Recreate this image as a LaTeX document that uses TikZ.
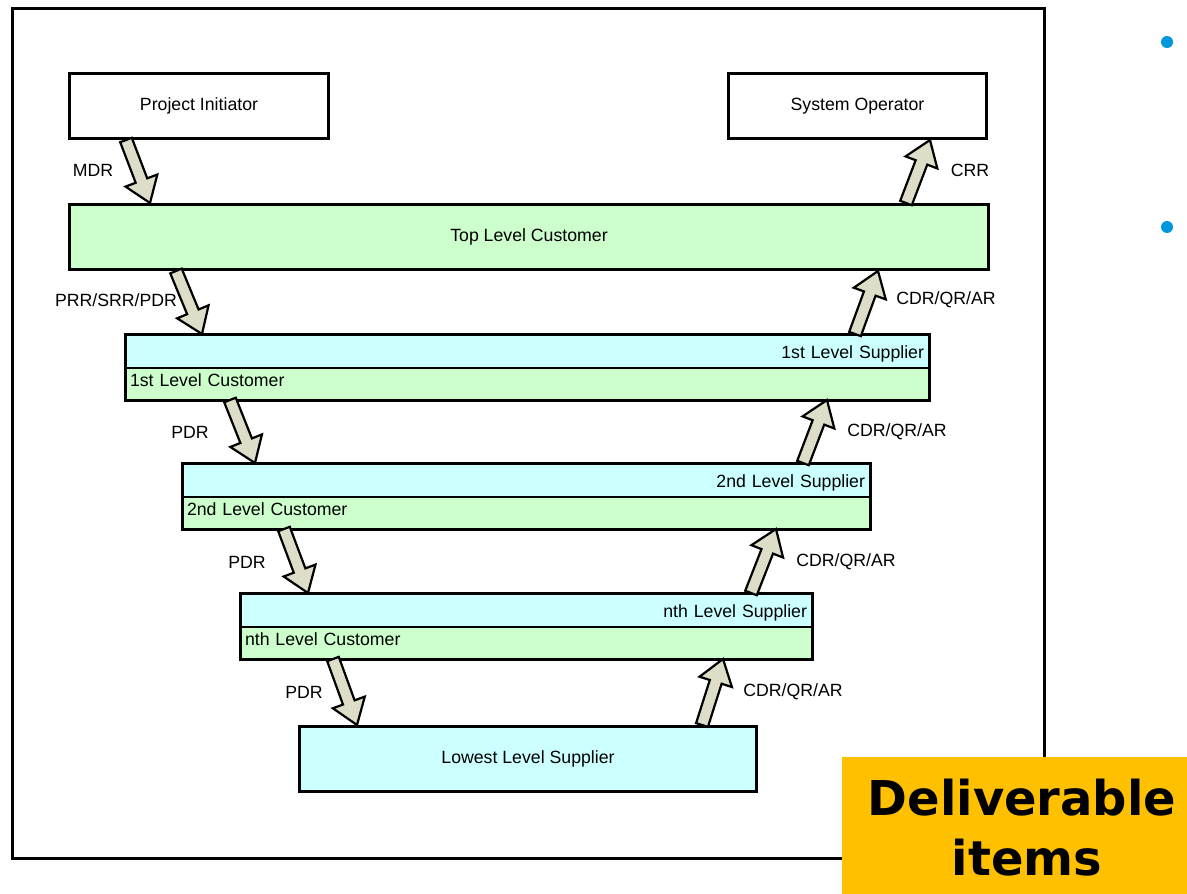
\documentclass[tikz,border=0pt]{standalone}
\usepackage{fontspec}
\setmainfont{Liberation Sans}
\newfontfamily\delfont{DejaVu Sans}
\usetikzlibrary{calc}
\definecolor{lgreen}{RGB}{204,255,204}
\definecolor{lcyan}{RGB}{204,255,255}
\definecolor{arrowfill}{RGB}{221,221,200}
\definecolor{dorange}{RGB}{255,192,0}
\definecolor{bulletblue}{RGB}{0,150,219}
\tikzset{
  txt/.style={font=\fontsize{17.7}{20}\selectfont},
  box/.style={draw, line width=3pt, inner sep=0pt, txt},
  part/.style={draw, line width=1.2pt, inner xsep=5pt, inner ysep=0pt, outer sep=0pt, txt},
  suppart/.style={part, fill=lcyan, align=right, text height=14pt, text depth=0pt},
  cuspart/.style={part, fill=lgreen, align=left, text height=10pt, text depth=6pt},
  outline/.style={draw, line width=3pt},
  barrow/.style={draw, line width=2.2pt, fill=arrowfill, line join=miter},
  lbl/.style={txt, inner sep=0pt},
  delfnt/.style={font=\delfont\bfseries\fontsize{48}{50}\selectfont, inner sep=0pt, anchor=base},
}
\newcommand\blkarrow[2]{%
  \coordinate (hb) at ($(#2)!24pt!(#1)$);
  \draw[barrow] ($(#1)!6.2pt!90:(#2)$) -- ($(hb)!6.2pt!-90:(#1)$) -- ($(hb)!17pt!-90:(#1)$)
     -- (#2) -- ($(hb)!17pt!90:(#1)$) -- ($(hb)!6.2pt!90:(#1)$) -- ($(#1)!6.2pt!-90:(#2)$) -- cycle;
}
\begin{document}
\begin{tikzpicture}[x=1pt,y=-1pt]
\useasboundingbox (0,0) rectangle (1187,894);
% frame
\draw[line width=3pt] (12,8) rectangle (1044,858);
% top boxes
\node[box, minimum width=259pt, minimum height=65pt, anchor=north west] (pi) at (68,72) {Project Initiator};
\node[box, minimum width=258pt, minimum height=65pt, anchor=north west] (so) at (727,72) {System Operator};
\node[box, fill=lgreen, minimum width=919pt, minimum height=65pt, anchor=north west] (tlc) at (68,203) {Top Level Customer};
% 1st level
\node[suppart, minimum width=804pt, minimum height=34pt, text width=794pt, anchor=north west] (s1) at (125,334) {1st Level Supplier};
\node[cuspart, minimum width=804pt, minimum height=32pt, text width=794pt, anchor=north west] (c1) at (s1.south west) {1st Level Customer};
\path[outline] (s1.north west) rectangle (c1.south east);
% 2nd level
\node[suppart, minimum width=688pt, minimum height=34pt, text width=678pt, anchor=north west] (s2) at (182,463) {2nd Level Supplier};
\node[cuspart, minimum width=688pt, minimum height=32pt, text width=678pt, anchor=north west] (c2) at (s2.south west) {2nd Level Customer};
\path[outline] (s2.north west) rectangle (c2.south east);
% nth level
\node[suppart, minimum width=572pt, minimum height=34pt, text width=562pt, anchor=north west] (s3) at (240,593) {nth Level Supplier};
\node[cuspart, minimum width=572pt, minimum height=32pt, text width=562pt, anchor=north west] (c3) at (s3.south west) {nth Level Customer};
\path[outline] (s3.north west) rectangle (c3.south east);
% lowest
\node[box, fill=lcyan, minimum width=457pt, minimum height=65pt, anchor=north west] (ls) at (298,725) {Lowest Level Supplier};
% arrows
\coordinate (a1t) at (126,0 |- pi.south);  \coordinate (a1h) at (150,0 |- tlc.north);
\coordinate (a2t) at (906,0 |- tlc.north); \coordinate (a2h) at (930,0 |- so.south);
\coordinate (a3t) at (176,0 |- tlc.south); \coordinate (a3h) at (202,0 |- s1.north);
\coordinate (a4t) at (855,0 |- s1.north);  \coordinate (a4h) at (878,0 |- tlc.south);
\coordinate (a5t) at (230,0 |- c1.south);  \coordinate (a5h) at (255,0 |- s2.north);
\coordinate (a6t) at (803,0 |- s2.north);  \coordinate (a6h) at (827,0 |- c1.south);
\coordinate (a7t) at (284,0 |- c2.south);  \coordinate (a7h) at (308,0 |- s3.north);
\coordinate (a8t) at (751,0 |- s3.north);  \coordinate (a8h) at (776,0 |- c2.south);
\coordinate (a9t) at (333,0 |- c3.south);  \coordinate (a9h) at (357,0 |- ls.north);
\coordinate (a10t) at (702,0 |- ls.north); \coordinate (a10h) at (723,0 |- c3.south);
\blkarrow{a1t}{a1h}
\blkarrow{a2t}{a2h}
\blkarrow{a3t}{a3h}
\blkarrow{a4t}{a4h}
\blkarrow{a5t}{a5h}
\blkarrow{a6t}{a6h}
\blkarrow{a7t}{a7h}
\blkarrow{a8t}{a8h}
\blkarrow{a9t}{a9h}
\blkarrow{a10t}{a10h}
% labels
\node[lbl] (l1) at (93,170) {MDR};
\node[lbl] (l2) at (970,170) {CRR};
\node[lbl] (l3) at (116,300) {PRR/SRR/PDR};
\node[lbl] (l4) at (946,300) {CDR/QR/AR};
\node[lbl] (l5) at (190,432) {PDR};
\node[lbl] (l6) at (897,432) {CDR/QR/AR};
\node[lbl] (l7) at (247,562) {PDR};
\node[lbl] (l8) at (846,562) {CDR/QR/AR};
\node[lbl] (l9) at (304,692) {PDR};
\node[lbl] (l10) at (793,692) {CDR/QR/AR};
% deliverable box
\fill[dorange] (842,757) rectangle (1187,894);
\node[delfnt] (del1) at (1022,815) {Deliverable};
\node[delfnt] (del2) at (1027,875) {items};
% bullets
\fill[bulletblue] (1167,42) circle (6);
\fill[bulletblue] (1167,227) circle (6);
\end{tikzpicture}
\end{document}
